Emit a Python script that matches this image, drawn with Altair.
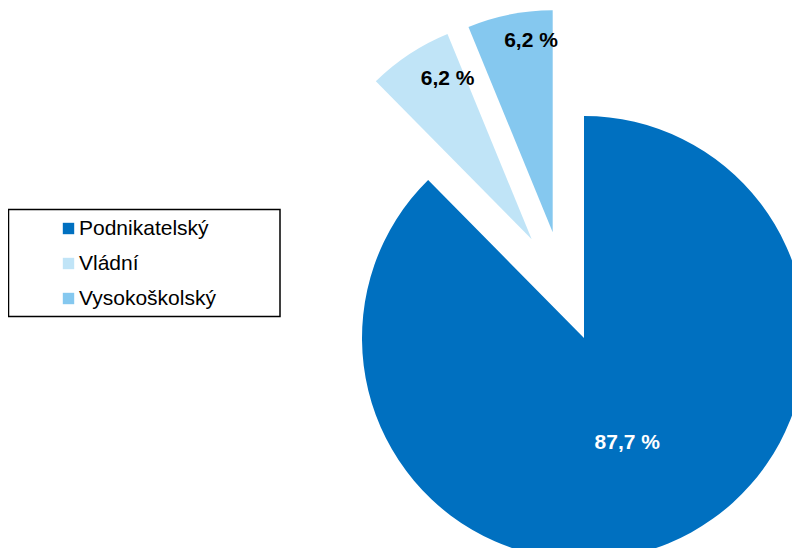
import math
import altair as alt
import pandas as pd

categories = ["Podnikatelský", "Vládní", "Vysokoškolský"]
shares = [87.7, 6.2, 6.2]
share_labels = ["87,7 %", "6,2 %", "6,2 %"]
colors = ["#0070C0", "#C0E4F7", "#85C8EF"]

df = pd.DataFrame({
    "sektor": categories,
    "podil": shares,
    "popisek": share_labels,
    "poradi": list(range(len(categories))),
})
total = sum(shares)

FONT = "Liberation Sans"
R = 222

# per-slice layout: centre of (exploded) slice, label radius, nudges, label colour
layout = {
    "Podnikatelský": dict(cx=576, cy=330, r=114, dx=0, dy=0, col="white"),
    "Vládní": dict(cx=523.7, cy=231.3, r=181, dx=15.7, dy=-9.5, col="black"),
    "Vysokoškolský": dict(cx=544.7, cy=224.3, r=193, dx=15.6, dy=-2.4, col="black"),
}

base = alt.Chart(df).transform_window(
    konec="sum(podil)", sort=[alt.SortField("poradi")], frame=[None, 0]
).transform_calculate(
    zacatek="datum.konec - datum.podil",
    stred="datum.konec - datum.podil / 2",
)

theta_scale = alt.Scale(domain=[0, total], range=[0, 2 * math.pi])
color = alt.Color(
    "sektor:N",
    scale=alt.Scale(domain=categories, range=colors),
    legend=alt.Legend(
        title=None, orient="none", legendX=50, legendY=210,
        symbolType="square", symbolSize=130, symbolStrokeWidth=0,
        labelFont=FONT, labelFontSize=21, labelColor="black",
        labelOffset=0, rowPadding=13, padding=0,
    ),
)

layers = []
for cat in categories:
    L = layout[cat]
    part = base.transform_filter(alt.datum.sektor == cat)
    layers.append(
        part.mark_arc(x=L["cx"], y=L["cy"], outerRadius=R, innerRadius=0).encode(
            theta=alt.Theta("zacatek:Q", scale=theta_scale),
            theta2="konec:Q",
            color=color,
        )
    )
for cat in categories:
    L = layout[cat]
    part = base.transform_filter(alt.datum.sektor == cat)
    layers.append(
        part.mark_text(
            x=L["cx"], y=L["cy"], radius=L["r"], dx=L["dx"], dy=L["dy"],
            font=FONT, fontSize=21, fontWeight="bold", color=L["col"],
            align="center", baseline="middle",
        ).encode(
            theta=alt.Theta("stred:Q", scale=theta_scale, stack=False),
            text="popisek:N",
        )
    )

frame = alt.Chart(alt.Data(values=[{}])).mark_rect(
    fill=None, stroke="black", strokeWidth=1.5
).encode(
    x=alt.value(0.5), x2=alt.value(272), y=alt.value(201.5), y2=alt.value(308.5)
)
layers.append(frame)

chart = alt.layer(*layers).properties(
    width=784, height=540, padding=0, autosize=alt.AutoSizeParams(type="none")
).configure_view(stroke=None)

chart.save("out.html", embed_options={"renderer": "svg", "actions": False})
